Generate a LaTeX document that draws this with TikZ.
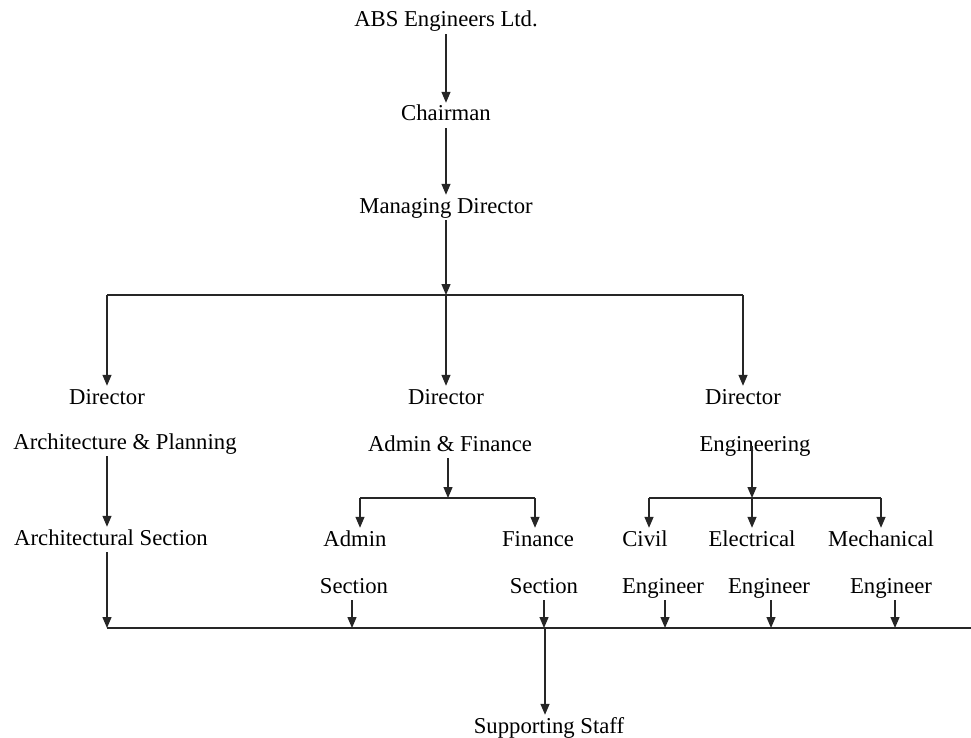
\documentclass[tikz,border=0pt]{standalone}
\usepackage{fontspec}
\setmainfont{Liberation Serif}
\usetikzlibrary{positioning,arrows.meta,calc}

\begin{document}
\begin{tikzpicture}[
  x=1pt, y=-1pt,
  font=\fontsize{22.7}{27}\selectfont,
  lbl/.style={anchor=base, inner sep=2pt, text height=16pt, text depth=5pt},
  ln/.style={line width=1.3pt, draw=black!85},
  arr/.style={ln, -{Triangle[width=9pt, length=11pt]}}]
\useasboundingbox (0,0) rectangle (971,738);

% Top: company, chairman, managing director.
\node[lbl] (abs) at (446,27) {ABS Engineers Ltd.};
\node[lbl] (chair) at (446,121) {Chairman};
\node[lbl] (md) at (446,213) {Managing Director};
\draw[arr] (abs) -- (chair);
\draw[arr] (chair) -- (md);
\coordinate (topbus) at (446,295);
\draw[arr] (md.south) -- (topbus);

% The three directors.
\node[lbl] (dirA) at (107,404) {Director};
\node[lbl] (dirB) at (446,404) {Director};
\node[lbl] (dirC) at (743,404) {Director};
\node[lbl] (aps) at (125,449) {Architecture \& Planning};
\node[lbl] (af) at (450,451) {Admin \& Finance};
\node[lbl] (eng) at (755,451) {Engineering};
\draw[ln] (dirA |- topbus) -- (dirC |- topbus);
\foreach \d in {dirA,dirB,dirC} \draw[arr] (\d |- topbus) -- (\d.north);

% Left: architecture branch.
\node[lbl] (archsec) at (111,545) {Architectural Section};
\draw[arr] (aps.south -| dirA) -- (archsec.north -| dirA);

% Middle: admin and finance branch.
\coordinate (afbus) at (448,498);
\node[lbl] (adm) at (355,546) {Admin};
\node[lbl] (fin) at (538,546) {Finance};
\node[lbl] (secA) at (354,593) {Section};
\node[lbl] (secF) at (544,593) {Section};
\draw[arr] (af.south -| afbus) -- (afbus);
\draw[ln] ([xshift=5pt]adm.north |- afbus) -- ([xshift=-3pt]fin.north |- afbus);
\draw[arr] ([xshift=5pt]adm.north |- afbus) -- ([xshift=5pt]adm.north);
\draw[arr] ([xshift=-3pt]fin.north |- afbus) -- ([xshift=-3pt]fin.north);

% Right: engineering branch.
\coordinate (engbus) at (752,498);
\node[lbl] (civ) at (645,546) {Civil};
\node[lbl] (elec) at (752,546) {Electrical};
\node[lbl] (mech) at (881,546) {Mechanical};
\node[lbl] (engC) at (663,593) {Engineer};
\node[lbl] (engE) at (769,593) {Engineer};
\node[lbl] (engM) at (891,593) {Engineer};
\draw[arr] (eng.center -| engbus) -- (engbus);
\draw[ln] ([xshift=4pt]civ.north |- engbus) -- (mech.north |- engbus);
\draw[arr] ([xshift=4pt]civ.north |- engbus) -- ([xshift=4pt]civ.north);
\draw[arr] (elec.north |- engbus) -- (elec.north);
\draw[arr] (mech.north |- engbus) -- (mech.north);

% Bottom: everything joins into supporting staff.
\coordinate (lowbus) at (545,628);
\coordinate (lowend) at (971,628);
\draw[ln] (dirA |- lowbus) -- (lowend);
\draw[arr] (archsec.south -| dirA) -- (dirA |- lowbus);
\foreach \s/\dx in {secA/-2pt,secF/0pt,engC/2pt,engE/2pt,engM/4pt}
  \draw[arr] ([xshift=\dx]\s.south) -- ([xshift=\dx]\s.south |- lowbus);
\node[lbl] (staff) at (549,733) {Supporting Staff};
\draw[arr] (lowbus) -- (staff.north -| lowbus);
\end{tikzpicture}
\end{document}
